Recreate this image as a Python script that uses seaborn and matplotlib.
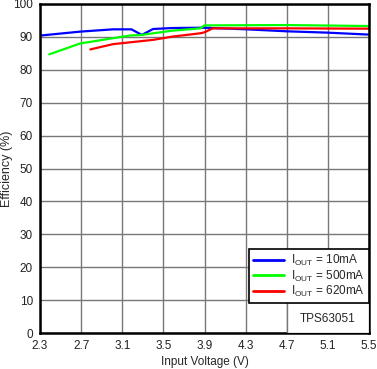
import numpy as np
import pandas as pd
import matplotlib
matplotlib.use("Agg")
import matplotlib.pyplot as plt
import seaborn as sns
from matplotlib.patches import Rectangle

# efficiency curves
v_10 = [2.3, 2.69, 3.01, 3.19, 3.29, 3.40, 3.59, 3.89, 4.31, 4.70, 5.09, 5.5]
eff_10 = [90.4, 91.6, 92.3, 92.3, 90.6, 92.4, 92.7, 92.8, 92.3, 91.7, 91.3, 90.7]

v_500 = [2.39, 2.69, 3.01, 3.17, 3.29, 3.40, 3.59, 3.86, 3.90, 4.70, 5.5]
eff_500 = [84.7, 88.0, 89.6, 90.4, 90.6, 91.1, 91.9, 92.6, 93.5, 93.6, 93.3]

v_620 = [2.79, 3.01, 3.40, 3.59, 3.86, 3.90, 3.98, 4.70, 5.5]
eff_620 = [86.2, 87.8, 89.1, 90.1, 91.1, 91.4, 92.6, 92.6, 92.5]

labels = [r'I$_{\mathrm{OUT}}$ = 10mA', r'I$_{\mathrm{OUT}}$ = 500mA', r'I$_{\mathrm{OUT}}$ = 620mA']
colors = ['#0000ff', '#00ff00', '#ff0000']
x_ticks = [2.3, 2.7, 3.1, 3.5, 3.9, 4.3, 4.7, 5.1, 5.5]
y_ticks = list(range(0, 101, 10))

frames = []
for v, e, lab in zip([v_10, v_500, v_620], [eff_10, eff_500, eff_620], labels):
    frames.append(pd.DataFrame({'vin': v, 'eff': e, 'load': lab}))
df = pd.concat(frames, ignore_index=True)

sns.set_style("white")
plt.rcParams['font.family'] = ['Liberation Sans', 'DejaVu Sans']
plt.rcParams['mathtext.fontset'] = 'custom'
plt.rcParams['mathtext.rm'] = 'Liberation Sans'

fig = plt.figure(figsize=(3.77, 3.69), dpi=100)
ax = fig.add_axes([40 / 377, 36 / 369, 329 / 377, 329 / 369])

sns.lineplot(data=df, x='vin', y='eff', hue='load', palette=colors, sort=False,
             linewidth=1.6, ax=ax, legend=True)

ax.set_xlim(2.3, 5.5)
ax.set_ylim(0, 100)
ax.set_xticks(x_ticks)
ax.set_xticklabels([f'{t:.1f}' for t in x_ticks])
ax.set_yticks(y_ticks)
ax.tick_params(length=0, labelsize=8.5, colors='#222222')
ax.tick_params(axis='x', pad=5)
ax.tick_params(axis='y', pad=5)
ax.grid(True, color='#777777', linewidth=1)
ax.set_axisbelow(True)
for s in ax.spines.values():
    s.set_color('black')
    s.set_linewidth(1.8)
ax.set_xlabel('Input Voltage (V)', fontsize=8.5, va='center')
ax.set_ylabel('Efficiency (%)', fontsize=9, va='center')
ax.xaxis.set_label_coords(0.5, -0.087)
ax.yaxis.set_label_coords(-0.1, 0.5)

# TPS63051 box below the legend
ax.add_patch(Rectangle((4.7, 0), 0.8, 9.5, facecolor='white', edgecolor='#777777',
                       linewidth=1, zorder=3))
ax.text(5.1, 4.4, 'TPS63051', ha='center', va='center', fontsize=8.5, zorder=4)

leg = ax.legend(loc='lower right', bbox_to_anchor=(1.0, 0.09), fontsize=8.5,
                frameon=True, fancybox=False, borderpad=0.35, labelspacing=0.05,
                handlelength=2.6, handletextpad=0.6, borderaxespad=0)
leg.get_frame().set_edgecolor('black')
leg.get_frame().set_linewidth(1.2)
leg.get_frame().set_alpha(1)
for line in leg.get_lines():
    line.set_linewidth(2)

fig.savefig('out.png', dpi=100)
